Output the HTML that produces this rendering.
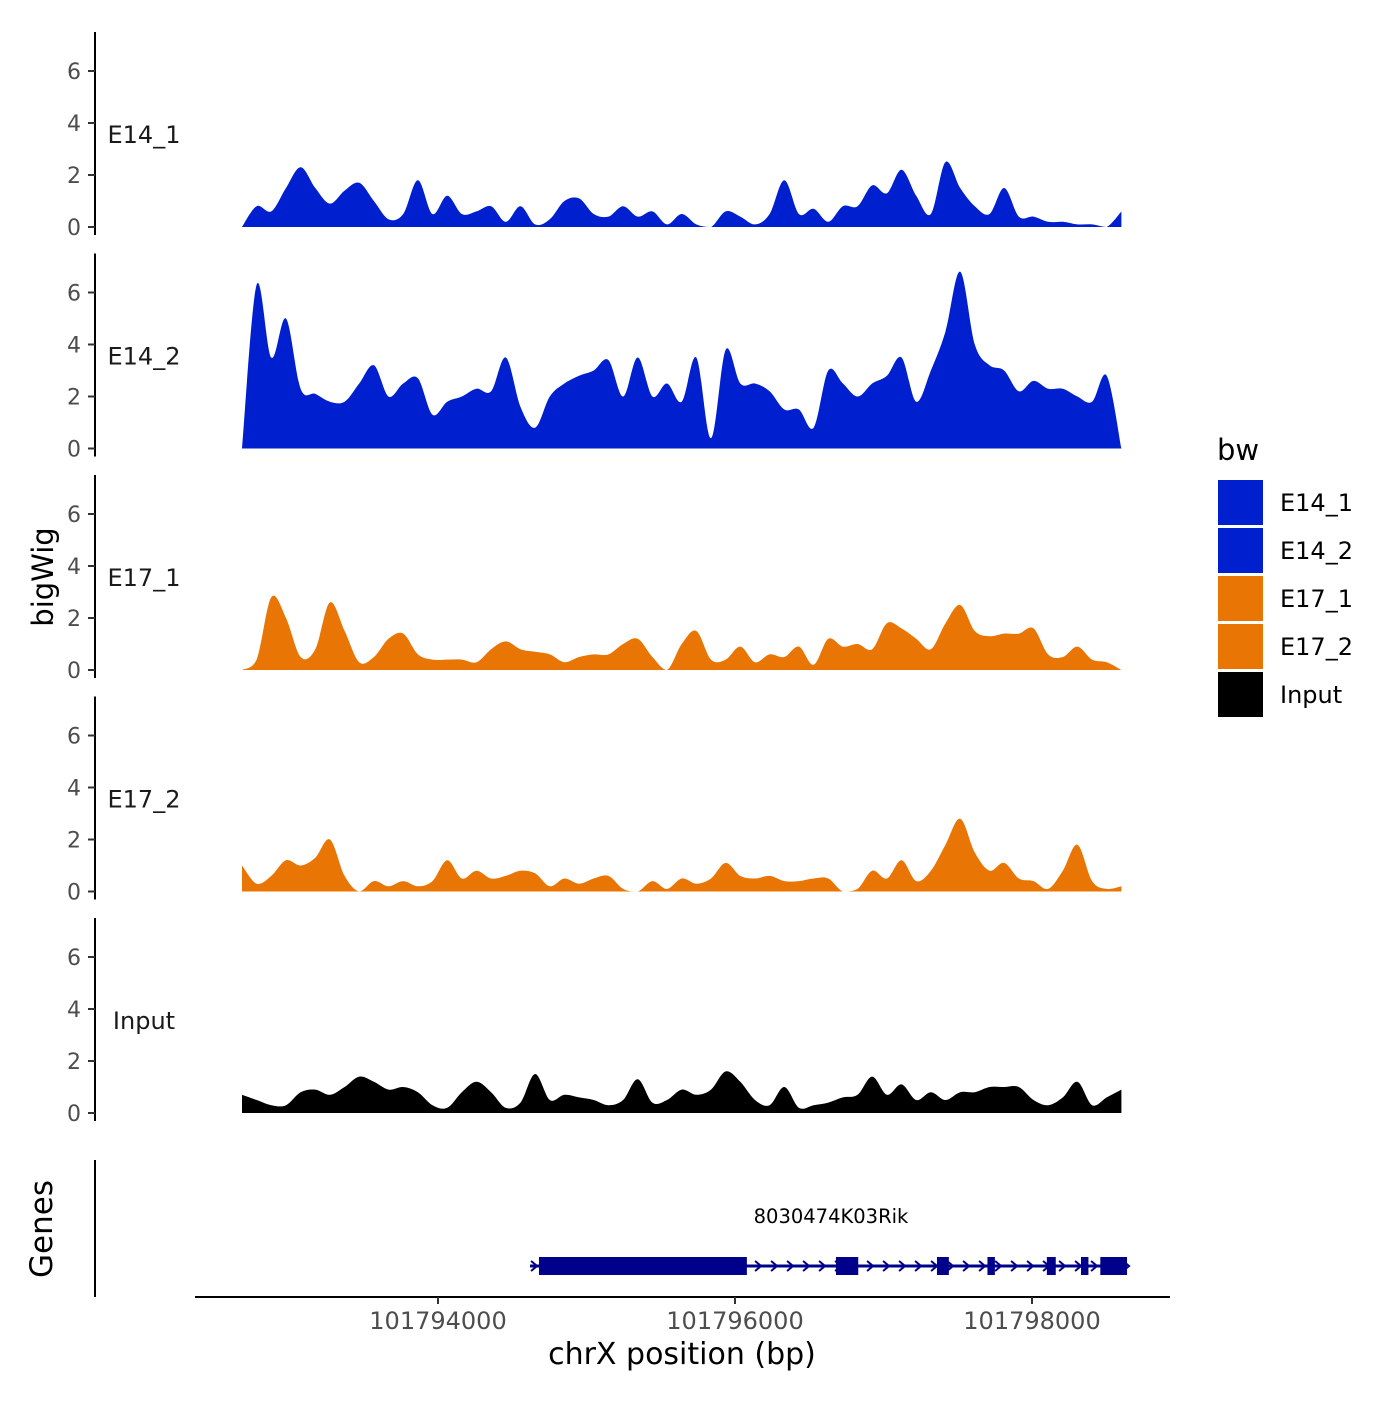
<!DOCTYPE html>
<html><head><meta charset="utf-8"><style>
body{margin:0;background:#fff}
svg text{font-family:"DejaVu Sans","Liberation Sans",sans-serif}
</style></head><body>
<svg id="chart" width="1400" height="1400" xmlns="http://www.w3.org/2000/svg">
<g id="panels"></g>
<g id="genes"></g>
<g id="xaxis"></g>
<g id="legend"></g>
<text x="53" y="577" transform="rotate(-90 53 577)" text-anchor="middle" font-size="29">bigWig</text>
<text x="52" y="1229" transform="rotate(-90 52 1229)" text-anchor="middle" font-size="31">Genes</text>
<text x="682" y="1364" text-anchor="middle" font-size="30">chrX position (bp)</text>
</svg>
<script>
const samples = ["E14_1","E14_2","E17_1","E17_2","Input"];
const sampleColors = ["#0020CF","#0020CF","#E87504","#E87504","#000000"];
const startBp = 101792680, stepBp = 98.7;
const e14_1 = [0,0.8,0.6,1.5,2.3,1.5,0.9,1.4,1.7,1.0,0.3,0.5,1.8,0.5,1.2,0.5,0.6,0.8,0.2,0.8,0.1,0.3,1.0,1.1,0.5,0.4,0.8,0.4,0.6,0.1,0.5,0.1,0,0.6,0.4,0.1,0.5,1.8,0.5,0.7,0.2,0.8,0.8,1.6,1.3,2.2,1.2,0.5,2.5,1.5,0.8,0.5,1.5,0.4,0.4,0.2,0.2,0.1,0.1,0,0.6];
const e14_2 = [0,6.3,3.5,5.0,2.3,2.1,1.8,1.8,2.5,3.2,2.0,2.5,2.7,1.3,1.8,2.0,2.3,2.2,3.5,1.6,0.8,2.0,2.5,2.8,3.0,3.4,2.0,3.5,2.0,2.5,1.8,3.5,0.4,3.8,2.5,2.5,2.2,1.5,1.5,0.8,3.0,2.5,2.0,2.5,2.8,3.5,1.8,3.0,4.5,6.8,4.0,3.2,3.0,2.2,2.6,2.3,2.3,2.0,1.8,2.8,0];
const e17_1 = [0,0.4,2.8,2.0,0.5,0.8,2.6,1.5,0.3,0.5,1.2,1.4,0.6,0.4,0.4,0.4,0.3,0.8,1.1,0.8,0.7,0.6,0.3,0.5,0.6,0.6,1.0,1.2,0.5,0,1.0,1.5,0.4,0.4,0.9,0.3,0.6,0.5,0.9,0.2,1.2,0.9,1.0,0.8,1.8,1.6,1.2,0.8,1.8,2.5,1.5,1.3,1.4,1.4,1.6,0.6,0.5,0.9,0.4,0.3,0];
const e17_2 = [1.0,0.3,0.6,1.2,1.0,1.3,2.0,0.6,0,0.4,0.2,0.4,0.2,0.4,1.2,0.5,0.8,0.5,0.6,0.8,0.7,0.2,0.5,0.3,0.5,0.6,0.1,0,0.4,0.1,0.5,0.3,0.5,1.1,0.6,0.5,0.6,0.4,0.4,0.5,0.5,0,0.1,0.8,0.5,1.2,0.4,0.8,1.8,2.8,1.5,0.8,1.1,0.5,0.4,0.1,0.8,1.8,0.4,0.1,0.2];
const input = [0.7,0.5,0.3,0.3,0.8,0.9,0.7,1.0,1.4,1.2,0.9,1.0,0.8,0.3,0.2,0.8,1.2,0.8,0.2,0.4,1.5,0.5,0.7,0.6,0.5,0.3,0.5,1.3,0.4,0.5,0.9,0.7,0.9,1.6,1.2,0.5,0.3,1.0,0.2,0.3,0.4,0.6,0.7,1.4,0.7,1.1,0.5,0.8,0.5,0.8,0.8,1.0,1.0,1.0,0.5,0.3,0.6,1.2,0.3,0.6,0.9];
const series = [e14_1,e14_2,e17_1,e17_2,input];
const yTicks = [0,2,4,6];
const xTicks = [101794000,101796000,101798000];
const exonStarts = [101794680,101796680,101797360,101797700,101798100,101798330,101798460];
const exonEnds   = [101796080,101796830,101797440,101797750,101798160,101798380,101798640];
const geneStart = 101794620, geneEnd = 101798640;
const geneName = "8030474K03Rik";

const NS="http://www.w3.org/2000/svg";
function mk(tag,attrs,parent){const e=document.createElementNS(NS,tag);for(const k in attrs)e.setAttribute(k,attrs[k]);parent.appendChild(e);return e;}
const xs = bp => 438 + (bp-101794000)*(297/2000);
const panelZero = i => 227 + i*221.5;
const ys = (i,v) => panelZero(i) - v*26;

const panels=document.getElementById('panels');
samples.forEach((s,i)=>{
  const g=mk('g',{},panels);
  
  
  const top=32+i*221.5, bot=top+203;
  const ax=mk('line',{x1:95,x2:95,y1:top,y2:bot,stroke:'#000','stroke-width':2},g);
  
  
  yTicks.forEach(t=>{
    const y=ys(i,t);
    const tk=mk('line',{x1:88,x2:95,y1:y,y2:y,stroke:'#333','stroke-width':2},g);
    
    
    const tl=mk('text',{x:81,y:y+8,'text-anchor':'end','font-size':22,fill:'#4d4d4d'},g);
    tl.textContent=t;
    
    
  });
  const lb=mk('text',{x:144,y:ys(i,0)-84,'text-anchor':'middle','font-size':24,fill:'#1a1a1a'},g);
  lb.textContent=s;
  
  
  const vals=series[i];
  const pts=vals.map((v,j)=>[xs(startBp+j*stepBp),ys(i,v)]);
  const base=ys(i,0);
  let d='M'+pts[0][0].toFixed(1)+','+base+' L'+pts[0][0].toFixed(1)+','+pts[0][1].toFixed(1);
  for(let j=0;j<pts.length-1;j++){
    const p0=pts[Math.max(0,j-1)],p1=pts[j],p2=pts[j+1],p3=pts[Math.min(pts.length-1,j+2)];
    const c1x=p1[0]+(p2[0]-p0[0])/6, c1y=Math.min(base,p1[1]+(p2[1]-p0[1])/6);
    const c2x=p2[0]-(p3[0]-p1[0])/6, c2y=Math.min(base,p2[1]-(p3[1]-p1[1])/6);
    d+=` C${c1x.toFixed(1)},${c1y.toFixed(1)} ${c2x.toFixed(1)},${c2y.toFixed(1)} ${p2[0].toFixed(1)},${p2[1].toFixed(1)}`;
  }
  d+=' L'+pts[pts.length-1][0].toFixed(1)+','+base+' Z';
  const a=mk('path',{d:d,fill:sampleColors[i]},g);
  
  
});

// genes
const gg=document.getElementById('genes');
const gax=mk('line',{x1:95,x2:95,y1:1160,y2:1297,stroke:'#000','stroke-width':2},gg);


const gy=1266;
const gl=mk('line',{x1:xs(geneStart),x2:xs(geneEnd),y1:gy,y2:gy,stroke:'#00008B','stroke-width':3},gg);


for(let x=xs(geneStart)+4;x<xs(geneEnd);x+=16){
  const ar=mk('path',{d:`M${x-3},${gy-5} L${x+3},${gy} L${x-3},${gy+5}`,fill:'none',stroke:'#00008B','stroke-width':2},gg);
  
  
}
exonStarts.forEach((s,k)=>{
  const r=mk('rect',{x:xs(s),y:gy-9,width:xs(exonEnds[k])-xs(s),height:18,fill:'#00008B'},gg);
  
  
});
const gn=mk('text',{x:831,y:1223,'text-anchor':'middle','font-size':19.5,fill:'#000'},gg);
gn.textContent=geneName;



// x axis
const xa=document.getElementById('xaxis');
const xl=mk('line',{x1:195,x2:1170,y1:1297,y2:1297,stroke:'#000','stroke-width':2},xa);


xTicks.forEach(t=>{
  const x=xs(t);
  const tk=mk('line',{x1:x,x2:x,y1:1297,y2:1304,stroke:'#333','stroke-width':2},xa);
  
  
  const tl=mk('text',{x:x,y:1329,'text-anchor':'middle','font-size':24,fill:'#4d4d4d'},xa);
  tl.textContent=t;
  
  
});

// legend
const lg=document.getElementById('legend');
const lt=mk('text',{x:1217,y:460,'font-size':29,fill:'#000'},lg);
lt.textContent='bw';


samples.forEach((s,i)=>{
  const y=480+i*48;
  const r=mk('rect',{x:1218,y:y,width:45,height:45,fill:sampleColors[i]},lg);
  
  
  const t=mk('text',{x:1280,y:y+31,'font-size':24,fill:'#000'},lg);
  t.textContent=s;
  
  
});
</script>
</body></html>
